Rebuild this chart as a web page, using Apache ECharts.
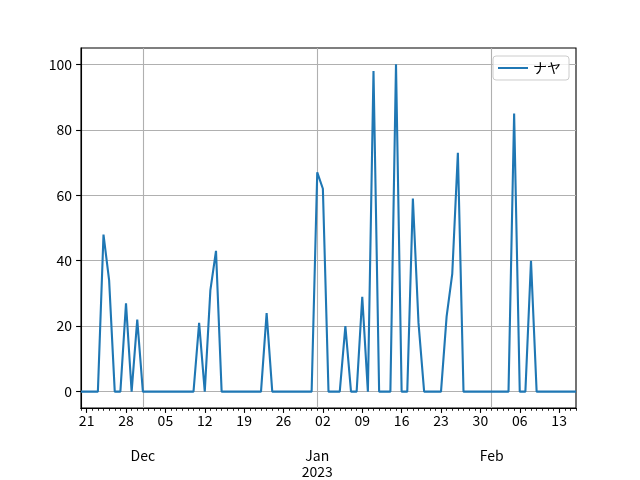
<!DOCTYPE html>
<html><head><meta charset="utf-8">
<script src="https://cdn.jsdelivr.net/npm/echarts@6/dist/echarts.min.js"></script>
<style>html,body{margin:0;padding:0;background:#fff}#c{width:640px;height:480px}</style>
</head><body><div id="c"></div>
<script>
// ---- data ----
const startDate = [2022, 10, 20]; // 2022-11-20 (UTC, month 0-based)
const dayCount = 89;              // through 2023-02-16
const seriesName = 'ナヤ';
const values = [
  0, 0, 0, 0, 48, 34, 0, 0, 27, 0,      // Nov 20 - Nov 29
  22, 0, 0, 0, 0, 0, 0, 0, 0, 0,        // Nov 30 - Dec 09
  0, 21, 0, 31, 43, 0, 0, 0, 0, 0,      // Dec 10 - Dec 19
  0, 0, 0, 24, 0, 0, 0, 0, 0, 0,        // Dec 20 - Dec 29
  0, 0, 67, 62, 0, 0, 0, 20, 0, 0,      // Dec 30 - Jan 08
  29, 0, 98, 0, 0, 0, 100, 0, 0, 59,    // Jan 09 - Jan 18
  21, 0, 0, 0, 0, 23, 36, 73, 0, 0,     // Jan 19 - Jan 28
  0, 0, 0, 0, 0, 0, 0, 85, 0, 0,        // Jan 29 - Feb 07
  40, 0, 0, 0, 0, 0, 0, 0, 0            // Feb 08 - Feb 16
];
const yTicks = [0, 20, 40, 60, 80, 100];
const monthNames = ['Jan','Feb','Mar','Apr','May','Jun','Jul','Aug','Sep','Oct','Nov','Dec'];

// ---- categories ----
const dates = [];
const base = Date.UTC(startDate[0], startDate[1], startDate[2]);
for (let i = 0; i < dayCount; i++) dates.push(new Date(base + i * 86400000));
const categories = dates.map(d => d.toISOString().slice(0, 10));
const isMonday = i => dates[i].getUTCDay() === 1;
const isMonthStart = i => dates[i].getUTCDate() === 1;

const FONT = '"Noto Sans CJK JP", "Noto Sans", sans-serif';
const chart = echarts.init(document.getElementById('c'), null, {renderer: 'canvas'});
chart.setOption({
  animation: false,
  backgroundColor: '#fff',
  grid: {left: 81, right: 64, top: 48, bottom: 72, show: true, borderColor: '#000', borderWidth: 1.1, backgroundColor: 'transparent'},
  legend: {
    data: [{name: seriesName, icon: 'rect'}],
    right: 71, top: 56,
    itemWidth: 30, itemHeight: 2, itemGap: 10,
    padding: [5, 8, 5, 5],
    borderColor: '#cccccc', borderWidth: 1, borderRadius: 3,
    backgroundColor: 'rgba(255,255,255,0.8)',
    textStyle: {fontSize: 14, color: '#000', fontFamily: FONT}
  },
  xAxis: [
    {
      // series axis: daily minor ticks, weekly labels, monthly grid lines
      type: 'category', data: categories, boundaryGap: false, position: 'bottom',
      axisLine: {onZero: false, lineStyle: {color: '#000', width: 1.1}},
      axisTick: {show: true, interval: 0, length: 2.8, lineStyle: {color: '#000', width: 0.85}},
      axisLabel: {interval: (i) => isMonday(i), formatter: (v) => v.slice(8, 10), color: '#000', fontSize: 14, fontFamily: FONT, margin: 6},
      splitLine: {show: true, interval: (i) => isMonthStart(i), lineStyle: {color: '#b0b0b0', width: 1.1}}
    },
    {
      // weekly major ticks
      type: 'category', data: categories, boundaryGap: false, position: 'bottom',
      axisLine: {show: true, onZero: false, lineStyle: {color: '#000', width: 1.1}},
      axisTick: {show: true, interval: (i) => isMonday(i), length: 4.9, lineStyle: {color: '#000', width: 1.1}},
      axisLabel: {show: false}, splitLine: {show: false}
    },
    {
      // month / year labels
      type: 'category', data: categories, boundaryGap: false, position: 'bottom',
      axisLine: {show: false, onZero: false}, axisTick: {show: false}, splitLine: {show: false},
      axisLabel: {
        interval: (i) => isMonthStart(i),
        formatter: (v, i) => { const d = dates[i]; const m = d.getUTCMonth(); return monthNames[m] + (m === 0 ? '\n' + d.getUTCFullYear() : ''); },
        color: '#000', fontSize: 14, fontFamily: FONT, margin: 40, lineHeight: 16
      }
    }
  ],
  yAxis: {
    type: 'value', min: -5, max: 105,
    axisLine: {show: true, onZero: false, lineStyle: {color: '#000', width: 1.1}},
    axisTick: {show: true, customValues: yTicks, length: 4.9, lineStyle: {color: '#000', width: 1.1}},
    axisLabel: {customValues: yTicks, color: '#000', fontSize: 14, fontFamily: FONT, margin: 9},
    splitLine: {show: true, lineStyle: {color: '#b0b0b0', width: 1.1}}
  },
  series: [{
    name: seriesName, type: 'line', data: values, xAxisIndex: 0,
    symbol: 'none', color: '#1f77b4', lineStyle: {width: 2.1, color: '#1f77b4'}
  }]
});
</script></body></html>
